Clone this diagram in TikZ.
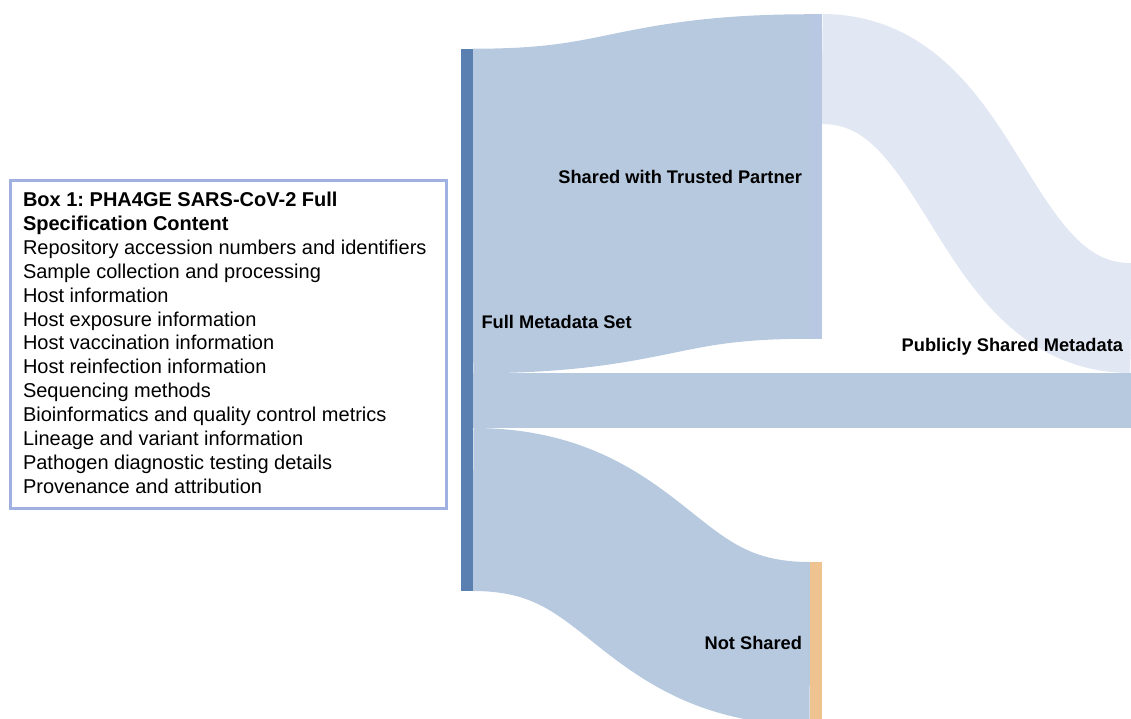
\documentclass[tikz,border=0pt]{standalone}
\usepackage{fontspec}
\setmainfont{Liberation Sans}
\usetikzlibrary{fit}
\frenchspacing
\definecolor{darkbar}{HTML}{5A7FB1}
\definecolor{flowblue}{HTML}{B7C9DF}
\definecolor{flowlight}{HTML}{E1E7F3}
\definecolor{trustbar}{HTML}{B8C7E2}
\definecolor{orangebar}{HTML}{EEC390}
\definecolor{boxframe}{HTML}{A0B0E0}
\tikzset{
  flow/.style={draw=flowblue, line cap=butt},
  flowpale/.style={draw=flowlight, line cap=butt},
  bar/.style={inner sep=0pt, outer sep=0pt, draw=none},
  lbl/.style={inner sep=0pt, outer sep=0pt, font=\fontsize{13.7pt}{16pt}\selectfont\bfseries, text=black},
  boxtxt/.style={inner sep=0pt, outer sep=0pt, font=\fontsize{15pt}{18pt}\selectfont, text=black, anchor=base west},
  boxttl/.style={boxtxt, font=\fontsize{15pt}{18pt}\selectfont\bfseries},
}
\begin{document}
\begin{tikzpicture}[x=0.75pt, y=-0.75pt]
\useasboundingbox (0,0) rectangle (1131,718);
\begin{scope}
\clip (0,0) rectangle (1131,718);
% flow end points (centre lines)
\coordinate (f1a) at (473,211);
\coordinate (f1b) at (810,176.5);
\coordinate (f2a) at (473,400.5);
\coordinate (f2b) at (1131,400.5);
\coordinate (f3a) at (473,509.5);
\coordinate (f3b) at (810,643.5);
\coordinate (f4a) at (822,69);
\coordinate (f4b) at (1131,318);
% flows
\draw[flowpale, line width=82.5pt] (f4a) .. controls (976.5,69) and (976.5,318) .. (f4b);
\draw[flow, line width=243.4pt] (f1a) .. controls (641.5,211) and (641.5,176.5) .. (f1b);
\draw[flow, line width=41.25pt] (f2a) -- (f2b);
\draw[flow, line width=122.25pt] (f3a) .. controls (641.5,509.5) and (641.5,643.5) .. (f3b);
% node bars
\coordinate (full-nw) at (461,49);   \coordinate (full-se) at (473,591);
\coordinate (trust-nw) at (810,14);  \coordinate (trust-se) at (822,339);
\coordinate (nots-nw) at (810,562);  \coordinate (nots-se) at (822,725);
\node[bar, fill=darkbar, fit=(full-nw)(full-se)] (full) {};
\node[bar, fill=trustbar, fit=(trust-nw)(trust-se)] (trust) {};
\node[bar, fill=orangebar, fit=(nots-nw)(nots-se)] (nots) {};
\end{scope}
% labels
\node[lbl, anchor=base east] (ltrust) at (802,183.5) {Shared with Trusted Partner};
\node[lbl, anchor=base west] (lfull) at (481.5,328) {Full Metadata Set};
\node[lbl, anchor=base east] (lpub) at (1123,351.5) {Publicly Shared Metadata};
\node[lbl, anchor=base east] (lnot) at (802,649.5) {Not Shared};
% box
\coordinate (box-nw) at (10.5,180);
\coordinate (box-se) at (446.5,508.5);
\node[draw=boxframe, line width=2.25pt, inner sep=0pt, fit=(box-nw)(box-se)] (box) {};
\node[boxttl] (t1) at (23,206.5) {Box 1: PHA4GE SARS-CoV-2 Full};
\node[boxttl] (t2) at (23,230.4) {Specification Content};
\foreach \txt [count=\i] in {Repository accession numbers and identifiers,
  Sample collection and processing,
  Host information,
  Host exposure information,
  Host vaccination information,
  Host reinfection information,
  Sequencing methods,
  Bioinformatics and quality control metrics,
  Lineage and variant information,
  Pathogen diagnostic testing details,
  Provenance and attribution}{
  \node[boxtxt] (b\i) at (23,{230.4+23.9*\i}) {\txt};
}
\end{tikzpicture}
\end{document}
